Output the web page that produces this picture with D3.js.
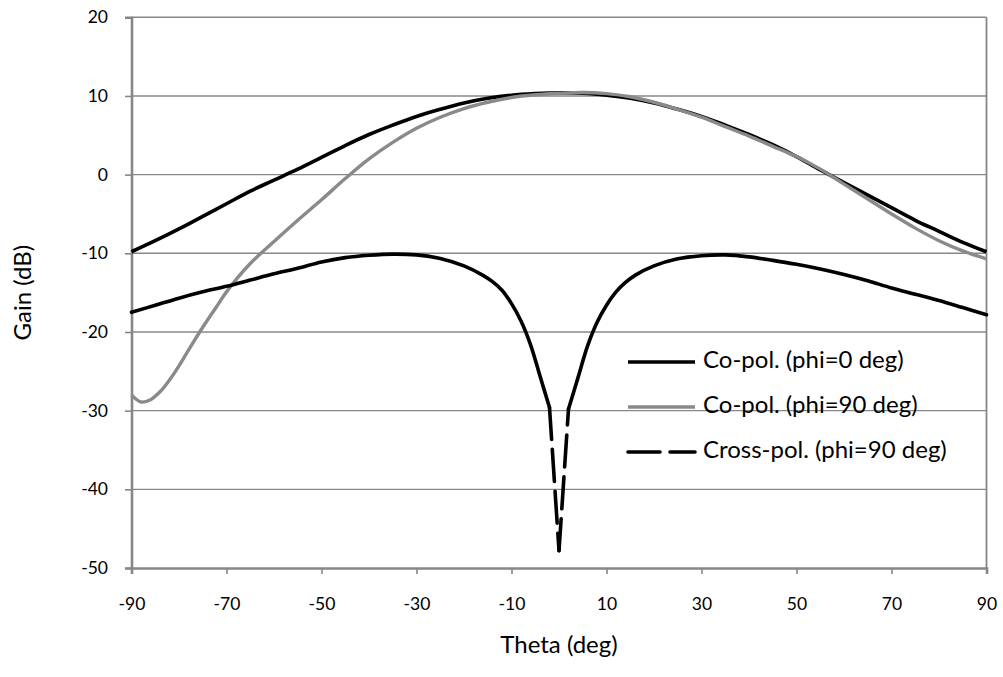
<!DOCTYPE html>
<html>
<head>
<meta charset="utf-8">
<script src="https://cdn.jsdelivr.net/npm/d3@7"></script>
<style>
  html, body { margin: 0; padding: 0; background: #fff; }
  svg { display: block; }
  text { font-family: Lato, "Open Sans", sans-serif; fill: #000; }
</style>
</head>
<body>
<svg id="chart" width="1003" height="677"></svg>
<script>
// Radiation pattern data (theta in degrees, gain in dB)
const thetaCo0 = [-90,-85,-80,-75,-70,-65,-60,-55,-50,-45,-40,-35,-30,-25,-20,-15,-10,-5,0,5,10,15,20,25,30,35,40,45,50,55,60,65,70,75,80,85,90];
const coPolPhi0 = [-9.8,-8.4,-6.9,-5.3,-3.7,-2.1,-0.7,0.7,2.2,3.7,5.1,6.3,7.4,8.3,9.1,9.7,10.1,10.3,10.4,10.35,10.1,9.7,9.1,8.3,7.4,6.3,5.1,3.8,2.3,0.6,-1.0,-2.6,-4.2,-5.8,-7.2,-8.6,-9.8];

const thetaCo90 = [-90,-88,-86,-84,-82,-80,-78,-75,-72,-70,-65,-60,-55,-50,-45,-40,-35,-30,-25,-20,-15,-10,-5,0,5,10,15,20,25,30,35,40,45,50,55,60,65,70,75,80,85,90];
const coPolPhi90 = [-28.0,-28.9,-28.6,-27.6,-26.1,-24.3,-22.3,-19.4,-16.7,-14.9,-11.3,-8.5,-5.8,-3.2,-0.5,2.0,4.1,5.9,7.3,8.4,9.2,9.8,10.15,10.35,10.45,10.3,9.9,9.2,8.3,7.3,6.1,4.9,3.6,2.3,0.7,-1.2,-3.1,-5.0,-6.8,-8.4,-9.7,-10.7];

const thetaX90 = [-90,-85,-80,-75,-70,-65,-60,-55,-50,-45,-40,-35,-30,-25,-20,-16,-14,-12,-10,-8,-6,-4,-2,0,2,4,6,8,10,12,14,16,20,25,30,35,40,45,50,55,60,65,70,75,80,85,90];
const crossPolPhi90 = [-17.5,-16.6,-15.7,-14.9,-14.2,-13.4,-12.6,-11.9,-11.1,-10.55,-10.25,-10.1,-10.2,-10.65,-11.6,-12.8,-13.6,-14.7,-16.4,-18.6,-21.6,-25.6,-29.6,-47.8,-29.8,-25.8,-21.8,-18.8,-16.6,-14.9,-13.7,-12.8,-11.6,-10.7,-10.3,-10.2,-10.45,-10.9,-11.4,-12.0,-12.7,-13.5,-14.4,-15.2,-16.0,-16.9,-17.8];

const xTicks = [-90,-70,-50,-30,-10,10,30,50,70,90];
const yTicks = [-50,-40,-30,-20,-10,0,10,20];

const seriesNames = ["Co-pol. (phi=0 deg)", "Co-pol. (phi=90 deg)", "Cross-pol. (phi=90 deg)"];

const svg = d3.select("#chart");
const gridColor = "#878787";
const DASH = [32, 10];

const x = d3.scaleLinear().domain([-90, 90]).range([131.5, 986.5]);
const y = d3.scaleLinear().domain([-50, 20]).range([568, 17.3]);
const fmt = d => String(d);

// horizontal gridlines
svg.append("g").selectAll("line").data(yTicks.filter(d => d !== -50)).join("line")
  .attr("x1", x(-90)).attr("x2", x(90))
  .attr("y1", d => y(d)).attr("y2", d => y(d))
  .attr("stroke", gridColor).attr("stroke-width", 1.4);

// right border of plot area
svg.append("line")
  .attr("x1", x(90)).attr("x2", x(90)).attr("y1", y(20)).attr("y2", y(-50))
  .attr("stroke", gridColor).attr("stroke-width", 1.8);

// y axis
const yAxis = svg.append("g").attr("transform", `translate(${x(-90)},0)`)
  .call(d3.axisLeft(y).tickValues(yTicks).tickSize(6.5).tickPadding(17).tickFormat(fmt));
yAxis.select(".domain").attr("stroke", gridColor).attr("stroke-width", 2.6);
yAxis.selectAll(".tick line").attr("stroke", gridColor).attr("stroke-width", 1.6);
yAxis.selectAll(".tick text").style("font-size", "17.5px").style("font-family", "Lato, sans-serif").attr("fill", "#000");

// x axis
const xAxis = svg.append("g").attr("transform", `translate(0,${y(-50)})`)
  .call(d3.axisBottom(x).tickValues(xTicks).tickSize(6).tickPadding(24).tickFormat(fmt));
xAxis.select(".domain").attr("stroke", gridColor).attr("stroke-width", 2.6);
xAxis.selectAll(".tick line").attr("stroke", gridColor).attr("stroke-width", 1.6);
xAxis.selectAll(".tick text").style("font-size", "17.5px").style("font-family", "Lato, sans-serif").attr("fill", "#000");

// axis titles
svg.append("text").attr("x", (x(-90) + x(90)) / 2).attr("y", 647)
  .attr("text-anchor", "middle").attr("dominant-baseline", "middle")
  .style("font-size", "24px").text("Theta (deg)");
svg.append("text").attr("transform", `translate(25,${(y(20) + y(-50)) / 2}) rotate(-90)`)
  .attr("text-anchor", "middle").attr("dominant-baseline", "middle")
  .style("font-size", "24px").text("Gain (dB)");

const smooth = d3.line().x(d => x(d[0])).y(d => y(d[1])).curve(d3.curveCatmullRom.alpha(0.5));
const straight = d3.line().x(d => x(d[0])).y(d => y(d[1]));
const zip = (a, b) => a.map((t, i) => [t, b[i]]);

// co-polar, phi = 0
svg.append("path").datum(zip(thetaCo0, coPolPhi0))
  .attr("d", smooth).attr("fill", "none").attr("stroke", "#000").attr("stroke-width", 3.6);

// co-polar, phi = 90
svg.append("path").datum(zip(thetaCo90, coPolPhi90))
  .attr("d", smooth).attr("fill", "none").attr("stroke", "#8a8a8a").attr("stroke-width", 3.4);

// cross-polar, phi = 90: the dash pattern restarts at every data point, so
// runs of short segments read as a solid smooth line and only the long
// segments into the null show the long-dash pattern
const crossPts = zip(thetaX90, crossPolPhi90);
const segLen = (a, b) => Math.hypot(x(b[0]) - x(a[0]), y(b[1]) - y(a[1]));
const runs = [];
let current = [crossPts[0]];
d3.pairs(crossPts).forEach(([a, b]) => {
  if (segLen(a, b) > DASH[0] + 2) {
    if (current.length > 1) runs.push({ pts: current, dashed: false });
    runs.push({ pts: [a, b], dashed: true });
    current = [b];
  } else {
    current.push(b);
  }
});
if (current.length > 1) runs.push({ pts: current, dashed: false });

svg.append("g").selectAll("path").data(runs).join("path")
  .attr("d", r => r.dashed ? straight(r.pts) : smooth(r.pts))
  .attr("fill", "none").attr("stroke", "#000")
  .attr("stroke-width", 3.6).attr("stroke-linecap", "round").attr("stroke-linejoin", "round")
  .attr("stroke-dasharray", r => r.dashed ? DASH.join(",") : null);

// legend
const legendY = [362, 407, 452];
const legendStyle = [
  { stroke: "#000", width: 3.6, dash: null },
  { stroke: "#8a8a8a", width: 3.4, dash: null },
  { stroke: "#000", width: 3.6, dash: DASH.join(",") }
];
const lg = svg.append("g").selectAll("g").data(seriesNames).join("g")
  .attr("transform", (d, i) => `translate(0,${legendY[i]})`);
lg.append("line").attr("x1", 628).attr("x2", 695).attr("y1", 0).attr("y2", 0)
  .attr("stroke", (d, i) => legendStyle[i].stroke)
  .attr("stroke-width", (d, i) => legendStyle[i].width)
  .attr("stroke-linecap", (d, i) => legendStyle[i].dash ? "round" : "butt")
  .attr("stroke-dasharray", (d, i) => legendStyle[i].dash);
lg.append("text").attr("x", 703).attr("y", 0).attr("dominant-baseline", "middle")
  .style("font-size", "24px").text(d => d);
</script>
</body>
</html>
